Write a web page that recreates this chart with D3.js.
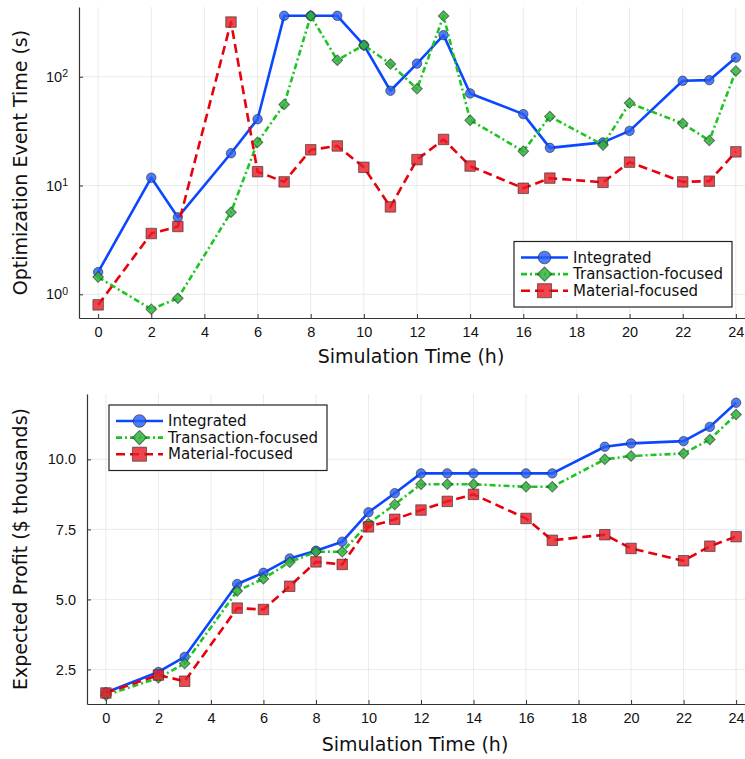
<!DOCTYPE html>
<html>
<head>
<meta charset="utf-8">
<script src="https://cdn.jsdelivr.net/npm/d3@7"></script>
<style>
  body { margin: 0; background: #fff; }
  svg { font-family: "DejaVu Sans", sans-serif; display: block; }
</style>
</head>
<body>
<script>
const hours = [0, 2, 3, 5, 6, 7, 8, 9, 10, 11, 12, 13, 14, 16, 17, 19, 20, 22, 23, 24];

// optimisation event time (s), log axis
const eventIntegrated  = [1.6, 11.8, 5.1, 19.8, 40.7, 363, 363, 363, 195, 74.3, 132, 241, 70.2, 45.3, 22.2, 24.9, 31.8, 91.7, 93, 150];
const eventTransaction = [1.44, 0.73, 0.92, 5.68, 25, 55.6, 363, 142, 195, 131, 77.4, 361, 39.9, 20.7, 43.1, 23.6, 57.2, 37.2, 25.9, 113];
const eventMaterial    = [0.8, 3.62, 4.2, 318, 13.4, 10.8, 21.3, 23.1, 14.7, 6.36, 17.3, 26.5, 15.1, 9.44, 11.7, 10.7, 16.4, 10.8, 10.96, 20.4];

// expected profit ($ thousands)
const profitIntegrated  = [1.68, 2.41, 2.95, 5.55, 5.95, 6.46, 6.74, 7.06, 8.11, 8.79, 9.5, 9.5, 9.5, 9.5, 9.5, 10.45, 10.57, 10.65, 11.16, 12.02];
const profitTransaction = [1.58, 2.2, 2.71, 5.3, 5.74, 6.33, 6.7, 6.7, 7.71, 8.39, 9.11, 9.11, 9.11, 9.02, 9.02, 10.0, 10.12, 10.21, 10.71, 11.6];
const profitMaterial    = [1.66, 2.3, 2.08, 4.69, 4.64, 5.47, 6.34, 6.25, 7.59, 7.86, 8.19, 8.5, 8.75, 7.89, 7.11, 7.31, 6.82, 6.38, 6.9, 7.24];

const seriesNames = ["Integrated", "Transaction-focused", "Material-focused"];
const xTicks = [0, 2, 4, 6, 8, 10, 12, 14, 16, 18, 20, 22, 24];
const logTicks = [1, 10, 100];
const profitTicks = [2.5, 5.0, 7.5, 10.0];

const styles = [
  {line: "#0a47ff", fill: "rgba(40,95,245,0.82)", dash: null, shape: d3.symbolCircle, size: 70, rot: 0},
  {line: "#1fc423", fill: "rgba(45,180,60,0.85)", dash: "6,3,2,3", shape: d3.symbolSquare, size: 56, rot: 45},
  {line: "#e8000b", fill: "rgba(232,30,40,0.82)", dash: "9,5", shape: d3.symbolSquare, size: 110, rot: 0}
];

const svg = d3.select("body").append("svg").attr("width", 745).attr("height", 759);

function pad(ext, log) {
  if (log) {
    const a = Math.log10(ext[0]), b = Math.log10(ext[1]), p = (b - a) * 0.03;
    return [Math.pow(10, a - p), Math.pow(10, b + p)];
  }
  const p = (ext[1] - ext[0]) * 0.03;
  return [ext[0] - p, ext[1] + p];
}

function panel(opt) {
  const g = svg.append("g");
  const x = d3.scaleLinear().domain(pad(d3.extent(hours))).range([opt.left, opt.right]);
  const all = opt.series.flat();
  const y = (opt.log ? d3.scaleLog() : d3.scaleLinear())
    .domain(pad(d3.extent(all), opt.log)).range([opt.bottom, opt.top]);

  // grid
  g.append("g").selectAll("line").data(xTicks).join("line")
    .attr("x1", d => x(d)).attr("x2", d => x(d))
    .attr("y1", opt.top).attr("y2", opt.bottom)
    .attr("stroke", "#e4e4e4").attr("stroke-width", 0.8);
  g.append("g").selectAll("line").data(opt.yTicks).join("line")
    .attr("x1", opt.left).attr("x2", opt.right)
    .attr("y1", d => y(d)).attr("y2", d => y(d))
    .attr("stroke", "#e4e4e4").attr("stroke-width", 0.8);

  // axes
  const xAxis = d3.axisBottom(x).tickValues(xTicks).tickSizeInner(-4).tickSizeOuter(0).tickPadding(9);
  const gx = g.append("g").attr("transform", `translate(0,${opt.bottom})`).call(xAxis);
  const yAxis = d3.axisLeft(y).tickValues(opt.yTicks).tickSizeInner(-4).tickSizeOuter(0).tickPadding(11)
    .tickFormat(opt.log ? () => "" : d3.format(".1f"));
  const gy = g.append("g").attr("transform", `translate(${opt.left},0)`).call(yAxis);
  if (opt.log) {
    gy.selectAll(".tick text").each(function(d) {
      const t = d3.select(this);
      t.append("tspan").text("10");
      t.append("tspan").attr("dy", "-0.45em").style("font-size", "10.5px").text(Math.round(Math.log10(d)));
    });
  }
  [gx, gy].forEach(a => {
    a.selectAll(".domain").attr("stroke", "#333").attr("stroke-width", 1.2);
    a.selectAll(".tick line").attr("stroke", "#333");
    a.selectAll(".tick text").attr("fill", "#111").style("font-size", "14.5px");
  });

  // titles
  g.append("text").attr("x", (opt.left + opt.right) / 2 - 6).attr("y", opt.bottom + opt.xTitleDy)
    .attr("text-anchor", "middle").style("font-size", "19px").attr("fill", "#111").text("Simulation Time (h)");
  g.append("text").attr("transform", `translate(27,${(opt.top + opt.bottom) / 2}) rotate(-90)`)
    .attr("text-anchor", "middle").style("font-size", "19px").attr("fill", "#111").text(opt.yTitle);

  // series
  const line = d3.line().x((d, i) => x(hours[i])).y(d => y(d));
  opt.series.forEach((vals, k) => {
    const s = styles[k];
    g.append("path").datum(vals).attr("d", line).attr("fill", "none")
      .attr("stroke", s.line).attr("stroke-width", 2.6)
      .attr("stroke-dasharray", s.dash).attr("stroke-linejoin", "round");
    g.append("g").selectAll("path").data(vals).join("path")
      .attr("transform", (d, i) => `translate(${x(hours[i])},${y(d)}) rotate(${s.rot})`)
      .attr("d", d3.symbol(s.shape, s.size))
      .attr("fill", s.fill).attr("stroke", "rgba(40,40,40,0.6)").attr("stroke-width", 1);
  });

  // legend
  const lg = g.append("g").attr("transform", `translate(${opt.legend[0]},${opt.legend[1]})`);
  lg.append("rect").attr("width", opt.legend[2]).attr("height", 65.5)
    .attr("fill", "#fff").attr("stroke", "#222").attr("stroke-width", 1.2);
  seriesNames.forEach((name, k) => {
    const s = styles[k];
    const ry = 16 + k * 16.6;
    lg.append("line").attr("x1", 7).attr("x2", 54).attr("y1", ry).attr("y2", ry)
      .attr("stroke", s.line).attr("stroke-width", 2.6).attr("stroke-dasharray", s.dash);
    lg.append("path").attr("transform", `translate(30.5,${ry}) rotate(${s.rot})`)
      .attr("d", d3.symbol(s.shape, s.size * 1.8))
      .attr("fill", s.fill).attr("stroke", "rgba(40,40,40,0.6)").attr("stroke-width", 1);
    lg.append("text").attr("x", 59).attr("y", ry).attr("dy", "0.35em")
      .style("font-size", "15px").attr("fill", "#111").text(name);
  });
}

panel({
  left: 79, right: 755, top: 7, bottom: 318, log: true, xTitleDy: 45,
  series: [eventIntegrated, eventTransaction, eventMaterial],
  yTicks: logTicks, yTitle: "Optimization Event Time (s)",
  legend: [514, 241.5, 218]
});

panel({
  left: 87, right: 755, top: 394, bottom: 704, log: false, xTitleDy: 47,
  series: [profitIntegrated, profitTransaction, profitMaterial],
  yTicks: profitTicks, yTitle: "Expected Profit ($ thousands)",
  legend: [109, 405, 218]
});
</script>
</body>
</html>
